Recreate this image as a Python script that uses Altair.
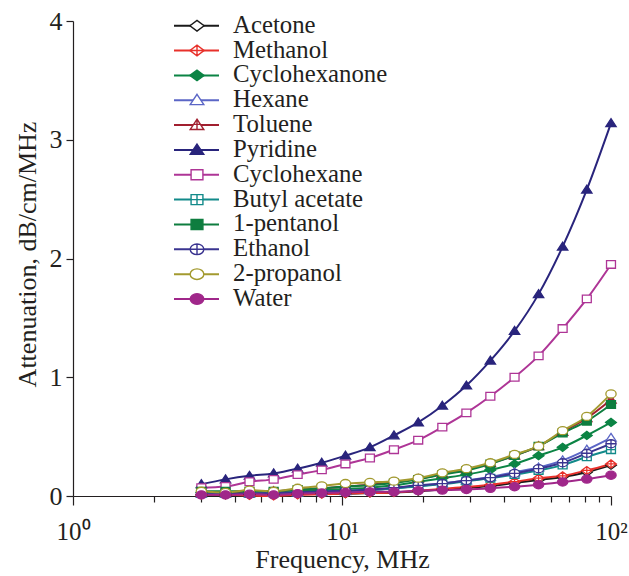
import altair as alt
import pandas as pd

# ---- data ----
freq = [3.0, 3.69, 4.53, 5.57, 6.84, 8.41, 10.3, 12.7, 15.6, 19.2, 23.6, 29.0, 35.6, 43.8, 53.8, 66.1, 81.3, 100.0]

names = ["Acetone", "Methanol", "Cyclohexanone", "Hexane", "Toluene", "Pyridine",
         "Cyclohexane", "Butyl acetate", "1-pentanol", "Ethanol", "2-propanol", "Water"]

acetone = [0.01, 0.01, 0.01, 0.01, 0.015, 0.02, 0.02, 0.025, 0.03, 0.04, 0.055, 0.07, 0.085, 0.11, 0.135, 0.16, 0.20, 0.26]
methanol = [0.01, 0.01, 0.005, 0.0, 0.01, 0.015, 0.02, 0.025, 0.03, 0.045, 0.06, 0.075, 0.095, 0.12, 0.15, 0.17, 0.215, 0.27]
cyclohexanone = [0.03, 0.03, 0.035, 0.035, 0.045, 0.05, 0.06, 0.07, 0.09, 0.12, 0.15, 0.18, 0.22, 0.27, 0.34, 0.41, 0.51, 0.62]
hexane = [0.02, 0.02, 0.02, 0.025, 0.03, 0.035, 0.04, 0.05, 0.065, 0.085, 0.105, 0.13, 0.16, 0.20, 0.24, 0.30, 0.39, 0.49]
toluene = [0.03, 0.03, 0.04, 0.04, 0.055, 0.065, 0.08, 0.095, 0.115, 0.145, 0.185, 0.225, 0.275, 0.34, 0.42, 0.54, 0.655, 0.81]
pyridine = [0.10, 0.14, 0.17, 0.19, 0.23, 0.28, 0.34, 0.41, 0.51, 0.62, 0.76, 0.93, 1.14, 1.39, 1.70, 2.10, 2.58, 3.14]
cyclohexane = [0.07, 0.08, 0.12, 0.14, 0.18, 0.22, 0.27, 0.32, 0.39, 0.47, 0.58, 0.70, 0.84, 1.00, 1.18, 1.41, 1.66, 1.95]
butyl_acetate = [0.02, 0.02, 0.02, 0.025, 0.03, 0.035, 0.045, 0.05, 0.065, 0.08, 0.10, 0.125, 0.15, 0.18, 0.215, 0.26, 0.33, 0.39]
pentanol = [0.04, 0.04, 0.04, 0.04, 0.055, 0.065, 0.08, 0.09, 0.11, 0.14, 0.18, 0.215, 0.27, 0.34, 0.42, 0.53, 0.63, 0.77]
ethanol = [0.015, 0.015, 0.02, 0.025, 0.03, 0.04, 0.045, 0.055, 0.07, 0.09, 0.105, 0.13, 0.155, 0.19, 0.23, 0.28, 0.36, 0.44]
propanol = [0.04, 0.03, 0.05, 0.04, 0.065, 0.085, 0.105, 0.115, 0.125, 0.15, 0.195, 0.23, 0.28, 0.35, 0.42, 0.55, 0.67, 0.86]
water = [0.01, 0.01, 0.015, 0.01, 0.02, 0.025, 0.03, 0.035, 0.035, 0.045, 0.05, 0.055, 0.065, 0.078, 0.095, 0.118, 0.143, 0.175]

series = [acetone, methanol, cyclohexanone, hexane, toluene, pyridine,
          cyclohexane, butyl_acetate, pentanol, ethanol, propanol, water]

colors = ["#1a1a1a", "#e8312b", "#0b8444", "#5b66c6", "#a11f2f", "#29247c",
          "#ae3596", "#128a8a", "#0e7d3f", "#3a3490", "#a39a2f", "#a0278a"]

# marker paths
DIAMOND = "M-1.2,0L0,-0.9L1.2,0L0,0.9Z"
DIAMOND_X = DIAMOND + "M0,-0.9L0,0.9M-1.2,0L1.2,0"
TRI = "M0,-1L1.15,0.75L-1.15,0.75Z"
TRI_X = TRI + "M0,-1L0,0.75M-0.58,-0.12L0.58,-0.12"
SQUARE = "M-1,-0.85L1,-0.85L1,0.85L-1,0.85Z"
SQUARE_X = SQUARE + "M0,-0.85L0,0.85M-1,0L1,0"
CIRCLE = "M-1.15,0A1.15,0.9 0 1,0 1.15,0A1.15,0.9 0 1,0 -1.15,0Z"
CIRCLE_X = CIRCLE + "M0,-0.9L0,0.9M-1.15,0L1.15,0"

shapes = [DIAMOND, DIAMOND_X, DIAMOND, TRI, TRI_X, TRI,
          SQUARE, SQUARE_X, SQUARE, CIRCLE_X, CIRCLE, CIRCLE]
fills = ["white", "white", colors[2], "white", "white", colors[5],
         "white", "white", colors[8], "white", "white", colors[11]]

x_ticks = [1, 2, 3, 4, 5, 6, 7, 8, 9, 10, 20, 30, 40, 50, 60, 70, 80, 90, 100]
y_ticks = [0, 1, 2, 3, 4]

rows = []
for n, vals in zip(names, series):
    for f, v in zip(freq, vals):
        rows.append({"name": n, "freq": f, "att": v})
df = pd.DataFrame(rows)
leg_df = pd.DataFrame({"name": names})

FONT = "Liberation Serif"
INK = "#231f20"

color_enc = alt.Color("name:N", scale=alt.Scale(domain=names, range=colors), legend=None)
stroke_enc = alt.Stroke("name:N", scale=alt.Scale(domain=names, range=colors), legend=None)
fill_enc = alt.Fill("name:N", scale=alt.Scale(domain=names, range=fills), legend=None)
shape_enc = alt.Shape("name:N", scale=alt.Scale(domain=names, range=shapes), legend=None)

major = "datum.value == 1 || datum.value == 10 || datum.value == 100"

x_enc = alt.X(
    "freq:Q",
    scale=alt.Scale(type="log", domain=[1, 100]),
    axis=alt.Axis(
        values=x_ticks,
        labelExpr="datum.value == 1 ? '10⁰' : datum.value == 10 ? '10¹' : datum.value == 100 ? '10²' : ''",
        title="Frequency, MHz",
        grid=False,
        tickSize={"condition": {"test": major, "value": 9}, "value": 6},
        labelPadding=14,
        labelFontSize=25,
        titleFontSize=26,
        titleY=71,
        titleBaseline="alphabetic",
        labelOverlap=False,
        labelFlush=False,
    ),
)

y_axis = alt.Axis(
    values=y_ticks,
    title="Attenuation, dB/cm/MHz",
    grid=False,
    tickSize=7,
    labelPadding=4,
    labelFontSize=26,
    titleFontSize=26,
    titleX=-38,
    titleY=233,
    titleAlign="center",
    titleBaseline="alphabetic",
)
y_enc = alt.Y("att:Q", scale=alt.Scale(domain=[0, 4]), axis=y_axis)

lines = alt.Chart(df).mark_line(interpolate="monotone", strokeWidth=2).encode(
    x=x_enc, y=y_enc, color=color_enc, detail="name:N"
)
points = alt.Chart(df).mark_point(size=80, strokeWidth=1.3, opacity=1).encode(
    x=x_enc,
    y=y_enc,
    stroke=stroke_enc,
    fill=fill_enc,
    shape=shape_enc,
)
main = alt.layer(lines, points)

leg_y = alt.Y("name:N", scale=alt.Scale(type="point", domain=names, range=[4.7, 278], padding=0), axis=None)
leg_rule = alt.Chart(leg_df).mark_rule(strokeWidth=2).encode(
    x=alt.value(101), x2=alt.value(146), y=leg_y, color=color_enc
)
leg_pts = alt.Chart(leg_df).mark_point(size=140, strokeWidth=1.4, opacity=1).encode(
    x=alt.value(124), y=leg_y, stroke=stroke_enc, fill=fill_enc, shape=shape_enc
)
leg_text = alt.Chart(leg_df).mark_text(
    align="left", baseline="middle", font=FONT, fontSize=24.8, color=INK
).encode(x=alt.value(160), y=leg_y, text="name:N")
legend = alt.layer(leg_rule, leg_pts, leg_text)

chart = (
    alt.layer(main, legend)
    .resolve_scale(y="independent")
    .properties(
        width=538,
        height=475,
        padding={"left": 73, "top": 21, "right": 18, "bottom": 80},
        autosize=alt.AutoSizeParams(type="none"),
        background="white",
    )
    .configure_view(stroke=None)
    .configure_axis(
        labelFont=FONT,
        titleFont=FONT,
        labelColor=INK,
        titleColor=INK,
        domainColor=INK,
        tickColor=INK,
        domainWidth=1.2,
        tickWidth=1.2,
        titleFontWeight="normal",
    )
)

chart.save("out.html", embed_options={"renderer": "svg", "actions": False})
